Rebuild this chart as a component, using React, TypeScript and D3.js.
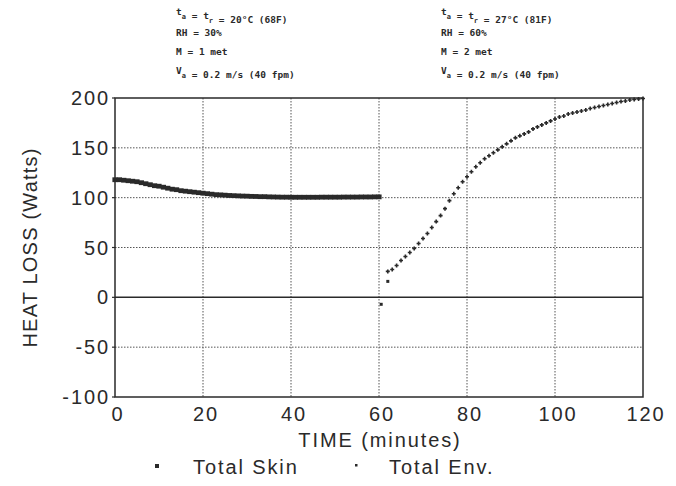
import React from "react";
import * as d3 from "d3";

// Time axis (minutes) and heat-loss axis (W)
const xTicks = [0, 20, 40, 60, 80, 100, 120];
const yTicks = [-100, -50, 0, 50, 100, 150, 200];

// Total skin heat loss, one reading per minute, 0–60 min
const skinTime = d3.range(0, 61);
const skinValues = [
  118, 118, 117.5, 117, 116.5, 116, 115, 114, 113, 112,
  111.5, 110.5, 109.5, 108.5, 108, 107, 106.5, 106, 105.5, 105,
  104.5, 104, 103.5, 103, 102.8, 102.5, 102.2, 102, 101.8, 101.6,
  101.5, 101.3, 101.2, 101, 101, 100.8, 100.7, 100.6, 100.5, 100.5,
  100.4, 100.4, 100.4, 100.4, 100.4, 100.4, 100.4, 100.5, 100.5, 100.5,
  100.5, 100.5, 100.6, 100.6, 100.6, 100.6, 100.7, 100.7, 100.7, 100.8,
  100.8,
];

// Total environmental heat loss, one reading per minute, 62–120 min
const envTime = d3.range(62, 121);
const envValues = [
  26, 28, 32, 37, 41, 45, 49, 54, 59, 64,
  70, 76, 82, 89, 97, 104, 110, 116, 121, 126,
  131, 135, 139, 142, 145, 148, 151, 154, 157, 160,
  162, 164, 166, 169, 171, 173, 175, 177, 179, 181,
  182, 184, 185, 186, 187, 188, 189.5, 190.5, 191.5, 192.5,
  193.5, 194.5, 195.5, 196.5, 197, 198, 198.5, 199, 199.5,
];

// Isolated readings at the step change
const stepTime = [60.5, 62];
const stepValues = [-7, 16];

const leftConditions = ["t_a = t_r = 20°C (68F)", "RH = 30%", "M = 1 met", "V_a = 0.2 m/s (40 fpm)"];
const rightConditions = ["t_a = t_r = 27°C (81F)", "RH = 60%", "M = 2 met", "V_a = 0.2 m/s (40 fpm)"];

const W = 676;
const H = 486;
const ink = "#2a2a2a";
const sans = "'Liberation Sans', Arial, sans-serif";
const mono = "'DejaVu Sans Mono', 'Liberation Mono', monospace";
const labelSize = 20;
const labelSpacing = 1.9;

function Condition({ text, x, y }: { text: string; x: number; y: number }) {
  // Renders "t_a" style subscripts in the small typewriter font
  const parts: React.ReactNode[] = [];
  const re = /([A-Za-z])_([a-z])/g;
  let last = 0;
  let m: RegExpExecArray | null;
  let k = 0;
  while ((m = re.exec(text))) {
    if (m.index > last) parts.push(<tspan key={k++}>{text.slice(last, m.index)}</tspan>);
    parts.push(<tspan key={k++}>{m[1]}</tspan>);
    parts.push(
      <tspan key={k++} dy={4} fontSize={7}>
        {m[2]}
      </tspan>
    );
    parts.push(<tspan key={k++} dy={-4}></tspan>);
    last = m.index + m[0].length;
  }
  if (last < text.length) parts.push(<tspan key={k++}>{text.slice(last)}</tspan>);
  return (
    <text x={x} y={y} fontFamily={mono} fontSize={9.5} fontWeight="bold" fill={ink} xmlSpace="preserve">
      {parts}
    </text>
  );
}

export default function App() {
  const x = d3.scaleLinear().domain([0, 120]).range([115, 643]);
  const y = d3.scaleLinear().domain([-100, 200]).range([397, 98]);

  const skin = skinTime.map((t, i) => [t, skinValues[i]] as const);
  const env = envTime.map((t, i) => [t, envValues[i]] as const);
  const step = stepTime.map((t, i) => [t, stepValues[i]] as const);

  const label = {
    fontFamily: sans,
    fontSize: labelSize,
    fill: ink,
    letterSpacing: labelSpacing,
  };

  return (
    <svg width={W} height={H} style={{ position: "absolute", left: 0, top: 0, background: "#fff" }}>
      <rect width={W} height={H} fill="#fff" />

      {/* condition notes above each half of the run */}
      {leftConditions.map((s, i) => (
        <Condition key={"l" + i} text={s} x={176} y={[15, 36, 55, 74][i]} />
      ))}
      {rightConditions.map((s, i) => (
        <Condition key={"r" + i} text={s} x={441} y={[15, 36, 55, 74][i]} />
      ))}

      {/* dotted grid */}
      {xTicks.slice(1, -1).map((t) => (
        <line key={"gx" + t} x1={x(t)} x2={x(t)} y1={y(200)} y2={y(-100)} stroke="#555" strokeWidth={1} strokeDasharray="1.5,1.5" />
      ))}
      {yTicks
        .filter((t) => t !== 0 && t !== 200 && t !== -100)
        .map((t) => (
          <line key={"gy" + t} x1={x(0)} x2={x(120)} y1={y(t)} y2={y(t)} stroke="#555" strokeWidth={1} strokeDasharray="1.5,1.5" />
        ))}
      <line x1={x(0)} x2={x(120)} y1={y(0)} y2={y(0)} stroke={ink} strokeWidth={1.5} />

      {/* frame */}
      <rect x={x(0)} y={y(200)} width={x(120) - x(0)} height={y(-100) - y(200)} fill="none" stroke={ink} strokeWidth={1.5} />
      {yTicks.map((t) => (
        <line key={"yt" + t} x1={x(0) - 3} x2={x(0)} y1={y(t)} y2={y(t)} stroke={ink} strokeWidth={1.2} />
      ))}

      {/* Total Skin */}
      {skin.map(([t, v]) => (
        <rect key={"s" + t} x={x(t) - 2.6} y={y(v) - 2.4} width={5.2} height={4.8} fill={ink} />
      ))}
      {/* Total Env. */}
      {env.map(([t, v]) => (
        <path
          key={"e" + t}
          d={`M${x(t) - 2},${y(v)}h4M${x(t)},${y(v) - 2}v4`}
          stroke={ink}
          strokeWidth={1.6}
          fill="none"
        />
      ))}
      {step.map(([t, v]) => (
        <rect key={"st" + t} x={x(t) - 1.5} y={y(v) - 1.5} width={3} height={3} fill={ink} />
      ))}

      {/* axis labels */}
      {yTicks.map((t) => (
        <text key={"yl" + t} x={110} y={y(t) + 7} textAnchor="end" {...label}>
          {t}
        </text>
      ))}
      {xTicks.map((t) => (
        <text key={"xl" + t} x={x(t) + 3} y={421} textAnchor="middle" {...label}>
          {t}
        </text>
      ))}
      <text x={380} y={447} textAnchor="middle" {...label}>
        TIME (minutes)
      </text>
      <text transform={`translate(37,${y(50)}) rotate(-90)`} textAnchor="middle" {...label} letterSpacing={1.2}>
        HEAT LOSS (Watts)
      </text>

      {/* legend */}
      <rect x={155} y={464} width={4} height={4} fill={ink} />
      <text x={193} y={474} {...label}>
        Total Skin
      </text>
      <rect x={355} y={464} width={2.5} height={2.5} fill={ink} />
      <text x={389} y={474} {...label}>
        Total Env.
      </text>
    </svg>
  );
}
